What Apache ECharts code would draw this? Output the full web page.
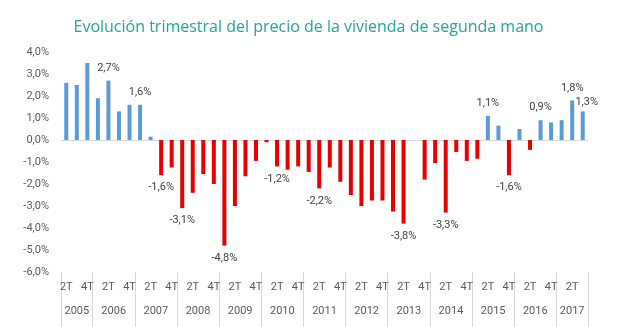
<!DOCTYPE html>
<html><head><meta charset="utf-8">
<script src="https://cdn.jsdelivr.net/npm/echarts@6/dist/echarts.min.js"></script>
<style>html,body{margin:0;padding:0;background:#fff}#c{width:617px;height:327px}</style>
</head><body><div id="c"></div>
<script>
const titleText = 'Evolución trimestral del precio de la vivienda de segunda mano';
const years = ['2005','2006','2007','2008','2009','2010','2011','2012','2013','2014','2015','2016','2017'];
const quarterNames = ['1T','2T','3T','4T'];
const firstQuarter = 2; // series starts at 2005 2T
const lastQuarter = 3;  // series ends at 2017 3T
const shownQuarterLabels = ['2T','4T'];
const values = [
  2.6, 2.5, 3.5,
  1.9, 2.7, 1.3, 1.6,
  1.6, 0.15, -1.6, -1.25,
  -3.1, -2.4, -1.55, -2.0,
  -4.8, -3.0, -1.65, -0.95,
  -0.1, -1.2, -1.35, -1.2,
  -1.45, -2.2, -1.25, -1.9,
  -2.5, -3.0, -2.75, -2.75,
  -3.25, -3.8, 0, -1.8,
  -1.05, -3.3, -0.55, -0.95,
  -0.85, 1.1, 0.65, -1.6,
  0.5, -0.45, 0.9, 0.8,
  0.9, 1.8, 1.3
];
const labeledCategories = ['2006 2T','2007 1T','2007 3T','2008 1T','2009 1T','2010 2T','2011 2T','2013 2T','2014 2T','2015 2T','2015 4T','2016 3T','2017 2T','2017 3T'];
const yTicks = {min: -6, max: 4, interval: 1};

// build categories
const categories = [];
const yearSpans = [];
years.forEach((y, yi) => {
  const qs = yi === 0 ? firstQuarter : 1;
  const qe = yi === years.length - 1 ? lastQuarter : 4;
  const start = categories.length;
  for (let q = qs; q <= qe; q++) categories.push(y + ' ' + quarterNames[q - 1]);
  yearSpans.push([start, categories.length]);
});
const n = categories.length;
const yearAxisData = new Array(2 * n + 1).fill('');
yearSpans.forEach((s, i) => { yearAxisData[s[0] + s[1]] = years[i]; });

const fmt = v => v.toFixed(1).replace('.', ',') + '%';
const blue = '#5B9BD5', red = '#E60000';
const seriesData = values.map((v, i) => {
  const item = {value: v, itemStyle: {color: v >= 0 ? blue : red}};
  if (labeledCategories.includes(categories[i])) {
    item.label = {show: true, position: v >= 0 ? 'top' : 'bottom', distance: 7,
      formatter: p => fmt(p.value)};
    if (categories[i] === '2017 3T') item.label.offset = [4, 3];
  }
  return item;
});

const font = 'Roboto, "Liberation Sans", sans-serif';
const chart = echarts.init(document.getElementById('c'), null, {renderer: 'canvas'});
chart.setOption({
  animation: false,
  backgroundColor: '#fff',
  title: {text: titleText, left: 'center', top: 14,
    textStyle: {fontFamily: '"Open Sans"', fontSize: 16, fontWeight: 'normal', color: '#22A69A'}},
  grid: {left: 61, right: 29, top: 52, bottom: 55, containLabel: false},
  xAxis: [{
    type: 'category', data: categories, position: 'bottom',
    axisLine: {show: false, onZero: false},
    axisTick: {show: true, length: 55, lineStyle: {color: '#D9D9D9'},
      interval: (i, v) => i === 0 || v.endsWith(' 1T')},
    axisLabel: {interval: 0, margin: 10, fontSize: 11, fontFamily: font, color: '#595959',
      formatter: v => { const q = v.split(' ')[1]; return shownQuarterLabels.includes(q) ? q : ''; }}
  }, {
    type: 'category', data: yearAxisData, boundaryGap: false, position: 'bottom', offset: 24,
    axisLine: {show: false, onZero: false}, axisTick: {show: false},
    axisLabel: {interval: 0, margin: 10, fontSize: 11, fontFamily: font, color: '#595959'}
  }],
  yAxis: {
    type: 'value', min: yTicks.min, max: yTicks.max, interval: yTicks.interval,
    axisLine: {show: false}, axisTick: {show: false}, splitLine: {show: false},
    axisLabel: {margin: 12, fontSize: 11, fontFamily: font, color: '#595959', formatter: fmt}
  },
  series: [{
    type: 'bar', data: seriesData, barWidth: 4, xAxisIndex: 0,
    label: {fontSize: 11, fontFamily: font, color: '#404040'},
    markLine: {silent: true, symbol: 'none', label: {show: false},
      lineStyle: {color: '#D9D9D9', type: 'solid', width: 1}, data: [{yAxis: 0}], z: 1}
  }]
});
</script></body></html>
